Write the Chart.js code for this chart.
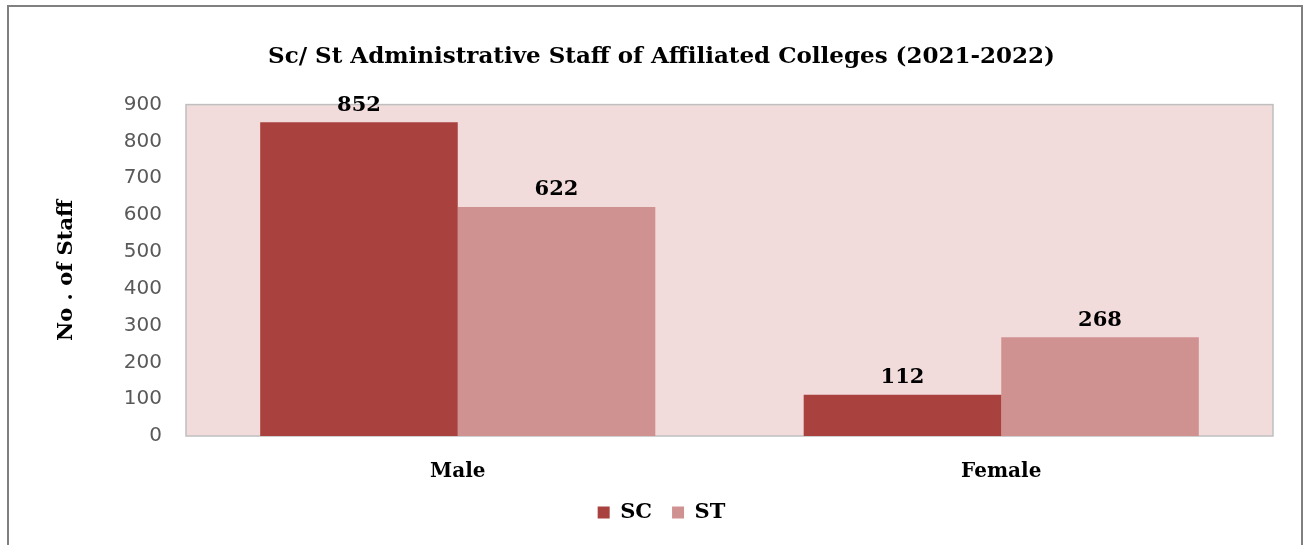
<!DOCTYPE html>
<html>
<head>
<meta charset="utf-8">
<script src="https://cdn.jsdelivr.net/npm/chart.js@4.4.0/dist/chart.umd.min.js"></script>
<style>
    html, body { margin: 0; padding: 0; background: #ffffff; }
    #wrap { position: relative; width: 1305px; height: 545px; }
</style>
</head>
<body>
<div id="wrap"><canvas id="grafico"></canvas></div>
<script>
// Dados do gráfico
const categorias = ["Male", "Female"];
const valoresSC = [852, 112];
const valoresST = [622, 268];
const series = ["SC", "ST"];
const tituloGrafico = "Sc/ St Administrative Staff of Affiliated Colleges (2021-2022)";
const tituloEixoY = "No . of Staff";

const fonteSerif = "'DejaVu Serif', serif";

// Moldura externa + fundo da área de plotagem
const pluginFundo = {
    id: "fundo",
    beforeDraw(chart) {
        const { ctx, chartArea: a } = chart;
        ctx.save();
        ctx.strokeStyle = "#808080";
        ctx.lineWidth = 2;
        ctx.strokeRect(8, 6, 1294, 560);
        ctx.fillStyle = "#f2dcdb";
        ctx.fillRect(a.left, a.top, a.right - a.left, a.bottom - a.top);
        ctx.strokeStyle = "#bfbfbf";
        ctx.lineWidth = 1.5;
        ctx.strokeRect(a.left, a.top, a.right - a.left, a.bottom - a.top);
        ctx.restore();
    }
};

// Rótulos de valor acima das barras
const pluginRotulos = {
    id: "rotulos",
    afterDatasetsDraw(chart) {
        const { ctx } = chart;
        ctx.save();
        ctx.font = "bold 21px " + fonteSerif;
        ctx.fillStyle = "#000000";
        ctx.textAlign = "center";
        ctx.textBaseline = "middle";
        chart.data.datasets.forEach((ds, i) => {
            chart.getDatasetMeta(i).data.forEach((bar, j) => {
                ctx.fillText(ds.data[j], bar.x, bar.y - 17);
            });
        });
        ctx.restore();
    }
};

new Chart(document.getElementById("grafico"), {
    type: "bar",
    data: {
        labels: categorias,
        datasets: [
            { label: series[0], data: valoresSC, backgroundColor: "#a9413f" },
            { label: series[1], data: valoresST, backgroundColor: "#d09291" }
        ]
    },
    options: {
        responsive: true,
        maintainAspectRatio: false,
        animation: false,
        categoryPercentage: 0.727,
        barPercentage: 1.0,
        layout: { padding: { left: 50, right: 32, top: 0, bottom: 12 } },
        plugins: {
            title: {
                display: true,
                text: tituloGrafico,
                color: "#000000",
                font: { family: fonteSerif, size: 23, weight: "bold" },
                padding: { top: 43, bottom: 34 }
            },
            legend: {
                position: "bottom",
                labels: {
                    color: "#000000",
                    font: { family: fonteSerif, size: 21, weight: "bold" },
                    boxWidth: 12,
                    boxHeight: 12,
                    padding: 20
                }
            },
            tooltip: { enabled: false }
        },
        scales: {
            x: {
                grid: { display: false, drawTicks: false },
                border: { display: false },
                ticks: {
                    color: "#000000",
                    padding: 24,
                    font: { family: fonteSerif, size: 20, weight: "bold" }
                },
                afterFit(scale) { scale.height = 46; }
            },
            y: {
                min: 0,
                max: 900,
                grid: { display: false, drawTicks: false },
                border: { display: false },
                ticks: {
                    stepSize: 100,
                    color: "#595959",
                    padding: 24,
                    font: { family: "'DejaVu Sans', sans-serif", size: 20 }
                },
                title: {
                    display: true,
                    text: tituloEixoY,
                    color: "#000000",
                    font: { family: fonteSerif, size: 21, weight: "bold" },
                    padding: { top: 4, bottom: 0 }
                },
                afterFit(scale) { scale.width = 136; }
            }
        }
    },
    plugins: [pluginFundo, pluginRotulos]
});
</script>
</body>
</html>
